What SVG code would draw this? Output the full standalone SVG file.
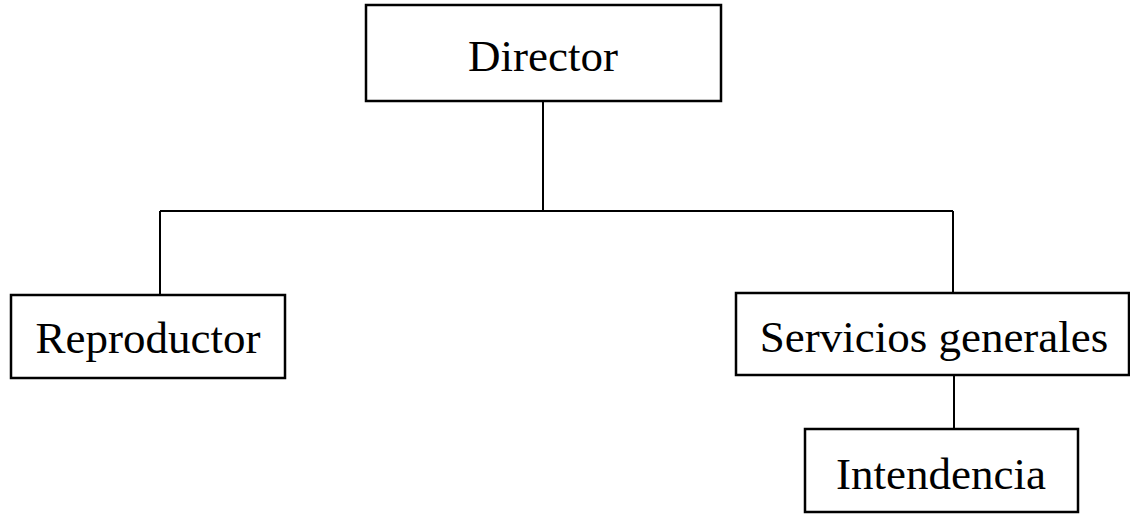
<svg xmlns="http://www.w3.org/2000/svg" width="1130" height="514" viewBox="0 0 1130 514">
<style>
.box{fill:#fff;stroke:#000;stroke-width:2.5}
.lbl{font-family:"Liberation Serif","Times New Roman",serif;font-size:45px;fill:#000;text-anchor:middle}
.conn{fill:none;stroke:#000;stroke-width:2}
</style>
<rect width="1130" height="514" fill="#fff"/>
<g id="connectors">
<path class="conn" d="M543 102 V211 M160 211 H953 M160 211 V295 M953 211 V293 M954 375 V429"/>
</g>
<g id="director">
<rect class="box" x="366" y="5" width="355" height="96"/>
<text class="lbl" x="543" y="71">Director</text>
</g>
<g id="reproductor">
<rect class="box" x="11" y="295" width="274" height="83"/>
<text class="lbl" x="148" y="353">Reproductor</text>
</g>
<g id="servicios">
<rect class="box" x="736" y="293" width="393" height="82"/>
<text class="lbl" x="934" y="352">Servicios generales</text>
</g>
<g id="intendencia">
<rect class="box" x="805" y="429" width="273" height="83"/>
<text class="lbl" x="941" y="489">Intendencia</text>
</g>
</svg>
